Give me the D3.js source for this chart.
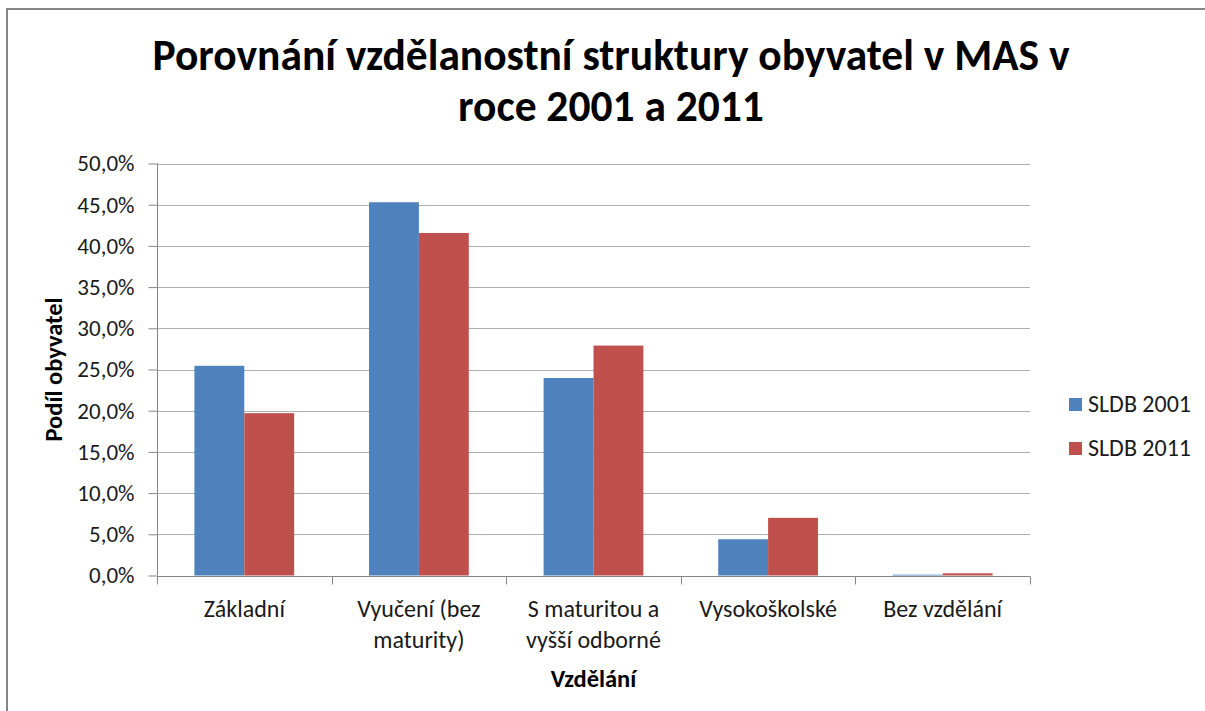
<!DOCTYPE html>
<html lang="cs">
<head>
  <meta charset="UTF-8">
  <title>Porovnání vzdělanostní struktury obyvatel</title>
  <style>
    body {
      margin: 0;
      padding: 0;
      background-color: white;
      font-family: Carlito, Calibri, Lato, sans-serif;
    }
    svg text {
      fill: #1a1a1a;
    }
    .title {
      font-weight: bold;
      font-size: 43.5px;
      fill: black;
    }
    .grid line {
      stroke: #b0b0b0;
      stroke-width: 1;
    }
    .axis path, .axis line {
      stroke: #868686;
      stroke-width: 1;
    }
    .axis text {
      font-family: Carlito, Calibri, Lato, sans-serif;
      font-size: 23px;
      fill: #1a1a1a;
    }
    .axis .cat-label {
      font-size: 24px;
    }
    .axis-title {
      font-weight: bold;
      font-size: 24.5px;
      fill: black;
    }
    .legend text {
      font-size: 24px;
    }
  </style>
</head>
<body>
  <div id="chart"></div>

  <script src="https://cdnjs.cloudflare.com/ajax/libs/d3/7.8.5/d3.min.js"></script>
  <script>
    // data (percent)
    var categories = ["Základní", "Vyučení (bez maturity)", "S maturitou a vyšší odborné", "Vysokoškolské", "Bez vzdělání"];
    var categoryLines = [["Základní"], ["Vyučení (bez", "maturity)"], ["S maturitou a", "vyšší odborné"], ["Vysokoškolské"], ["Bez vzdělání"]];
    var seriesNames = ["SLDB 2001", "SLDB 2011"];
    var values2001 = [25.45, 45.3, 23.97, 4.4, 0.1];
    var values2011 = [19.7, 41.57, 27.9, 7.0, 0.27];
    var yTicks = [0, 5, 10, 15, 20, 25, 30, 35, 40, 45, 50];
    var titleLines = ["Porovnání vzdělanostní struktury obyvatel v MAS v", "roce 2001 a 2011"];

    var colors = ["#4F81BD", "#C0504D"];
    var width = 1205, height = 711;
    var plot = {left: 157, right: 1030, top: 163.5, bottom: 575.5};

    var svg = d3.select("#chart").append("svg")
                .attr("width", width)
                .attr("height", height);

    // outer chart frame (runs off the right and bottom edge)
    svg.append("rect")
       .attr("x", 7)
       .attr("y", 9)
       .attr("width", width + 20)
       .attr("height", height + 20)
       .attr("fill", "white")
       .attr("stroke", "#858585")
       .attr("stroke-width", 2);

    var x0 = d3.scaleBand()
               .domain(categories)
               .range([plot.left, plot.right])
               .padding(0);

    // gap width 150% like excel
    var x1 = d3.scaleBand()
               .domain(seriesNames)
               .range([0, x0.bandwidth()])
               .paddingInner(0)
               .paddingOuter(0.75);

    var y = d3.scaleLinear()
              .domain([0, 50])
              .range([plot.bottom, plot.top]);

    // title
    svg.selectAll(".title")
       .data(titleLines)
       .enter().append("text")
       .attr("class", "title")
       .attr("x", 611)
       .attr("y", function(d, i) { return 70 + i * 51; })
       .attr("text-anchor", "middle")
       .text(function(d) { return d; });

    // horizontal grid
    svg.append("g")
       .attr("class", "grid")
       .selectAll("line")
       .data(yTicks.filter(function(t) { return t > 0; }))
       .enter().append("line")
       .attr("x1", plot.left)
       .attr("x2", plot.right)
       .attr("y1", function(d) { return Math.round(y(d)) + 0.5; })
       .attr("y2", function(d) { return Math.round(y(d)) + 0.5; });

    // bars
    var series = [values2001, values2011];
    var groups = svg.append("g").attr("class", "bars")
       .selectAll("g")
       .data(series)
       .enter().append("g")
       .attr("fill", function(d, i) { return colors[i]; });

    groups.selectAll("rect")
       .data(function(d, i) { return d.map(function(v, j) { return {s: seriesNames[i], c: categories[j], v: v}; }); })
       .enter().append("rect")
       .attr("x", function(d) { return x0(d.c) + x1(d.s); })
       .attr("y", function(d) { return y(d.v); })
       .attr("width", x1.bandwidth())
       .attr("height", function(d) { return y(0) - y(d.v); });

    // y axis
    var yAxis = svg.append("g")
       .attr("class", "axis axis--y")
       .attr("transform", "translate(" + (plot.left + 0.5) + ",0)")
       .call(d3.axisLeft(y)
               .tickValues(yTicks)
               .tickSize(9)
               .tickPadding(14)
               .tickFormat(function(d) { return d.toFixed(1).replace(".", ",") + "%"; }));
    yAxis.attr("font-family", null).attr("font-size", null);
    yAxis.select(".domain").attr("d", "M0," + plot.top + "V" + plot.bottom);

    // x axis, ticks sit on the category borders
    var xAxis = svg.append("g")
       .attr("class", "axis axis--x")
       .attr("transform", "translate(0," + (Math.round(plot.bottom) + 0.5) + ")");
    xAxis.append("line")
       .attr("x1", plot.left)
       .attr("x2", plot.right);
    xAxis.selectAll(".tick-mark")
       .data(categories.concat([null]))
       .enter().append("line")
       .attr("class", "tick-mark")
       .attr("x1", function(d) { return Math.round(d === null ? plot.right : x0(d)) + 0.5; })
       .attr("x2", function(d) { return Math.round(d === null ? plot.right : x0(d)) + 0.5; })
       .attr("y1", 0)
       .attr("y2", 8);
    var labels = xAxis.selectAll(".cat-label")
       .data(categories)
       .enter().append("text")
       .attr("class", "cat-label")
       .attr("text-anchor", "middle");
    labels.selectAll("tspan")
       .data(function(d, i) { return categoryLines[i].map(function(l) { return {c: d, l: l}; }); })
       .enter().append("tspan")
       .attr("x", function(d) { return x0(d.c) + x0.bandwidth() / 2; })
       .attr("y", function(d, i) { return 40 + i * 31; })
       .text(function(d) { return d.l; });

    // axis titles
    svg.append("text")
       .attr("class", "axis-title")
       .attr("transform", "translate(62," + ((plot.top + plot.bottom) / 2) + ") rotate(-90)")
       .attr("text-anchor", "middle")
       .text("Podíl obyvatel");

    svg.append("text")
       .attr("class", "axis-title")
       .attr("x", (plot.left + plot.right) / 2)
       .attr("y", 687)
       .attr("text-anchor", "middle")
       .text("Vzdělání");

    // legend
    var legend = svg.append("g")
       .attr("class", "legend")
       .selectAll("g")
       .data(seriesNames)
       .enter().append("g")
       .attr("transform", function(d, i) { return "translate(1069," + (398 + i * 44) + ")"; });
    legend.append("rect")
       .attr("width", 13)
       .attr("height", 13)
       .attr("fill", function(d, i) { return colors[i]; });
    legend.append("text")
       .attr("x", 19)
       .attr("y", 14)
       .text(function(d) { return d; });
  </script>
</body>
</html>
